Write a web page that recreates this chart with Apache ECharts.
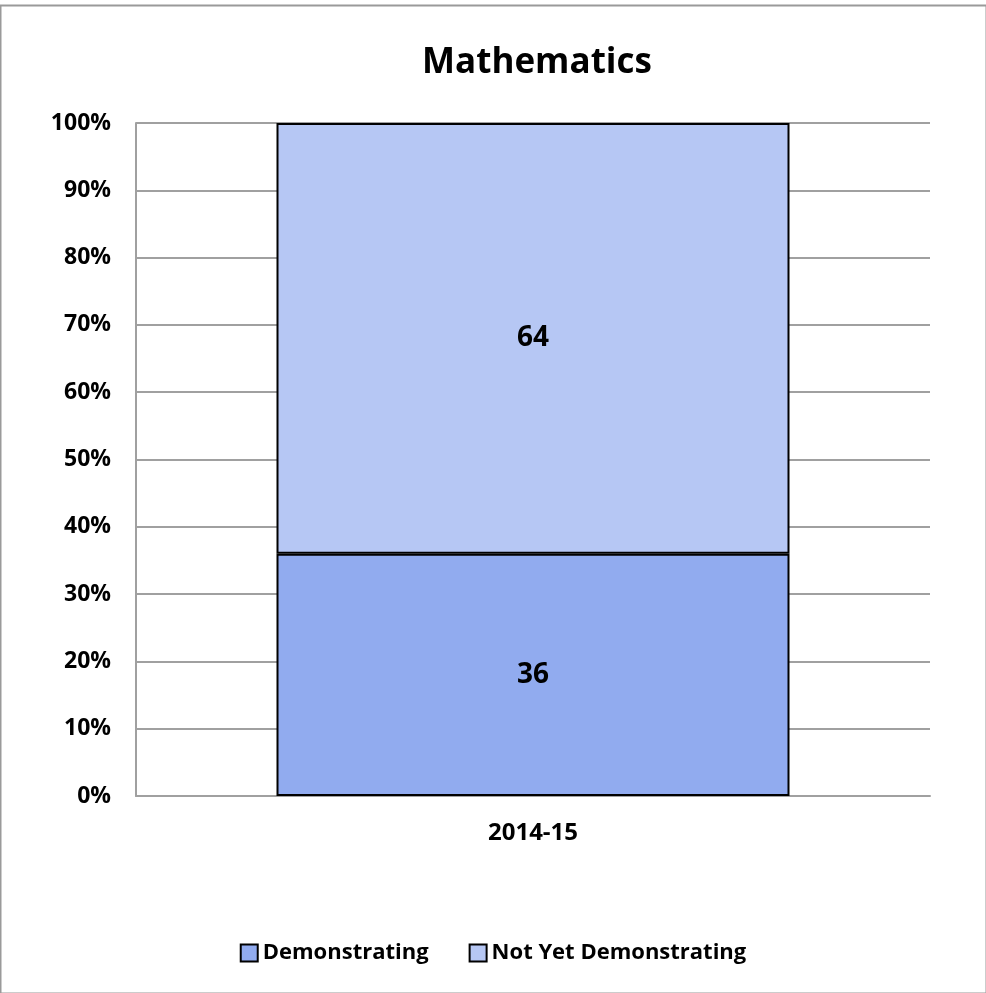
<!DOCTYPE html>
<html>
<head>
<meta charset="utf-8">
<script src="https://cdn.jsdelivr.net/npm/echarts@6/dist/echarts.min.js"></script>
<style>html,body{margin:0;padding:0;background:#fff}#c{width:986px;height:993px}</style>
</head>
<body>
<div id="c"></div>
<script>
var categories = ['2014-15'];
var demonstrating = [36];
var notYetDemonstrating = [64];
var seriesNames = ['Demonstrating', 'Not Yet Demonstrating'];
var colors = ['#91abef', '#b6c7f4'];

var font = '"Open Sans", Lato, sans-serif';
var chart = echarts.init(document.getElementById('c'), null, {renderer: 'canvas'});
chart.setOption({
  animation: false,
  backgroundColor: '#ffffff',
  title: {
    text: 'Mathematics', left: 532, top: 41, textAlign: 'center',
    textStyle: {fontFamily: font, fontWeight: 'bold', fontSize: 35, color: '#000'}
  },
  graphic: [{
    type: 'rect', left: -2, top: 3, shape: {width: 986, height: 988},
    style: {fill: 'none', stroke: '#9a9a9a', lineWidth: 2}, silent: true
  }],
  legend: {
    bottom: 24, left: 'center', itemGap: 40, itemWidth: 17, itemHeight: 17,
    icon: 'rect',
    textStyle: {fontFamily: font, fontWeight: 'bold', fontSize: 22, color: '#000'},
    itemStyle: {borderColor: '#000', borderWidth: 2},
    data: seriesNames
  },
  grid: {left: 136, right: 56, top: 123, bottom: 197, containLabel: false},
  xAxis: {
    type: 'category', data: categories,
    axisLine: {show: true, lineStyle: {color: '#a0a0a0', width: 2}},
    axisTick: {show: false},
    axisLabel: {fontFamily: font, fontWeight: 'bold', fontSize: 24, color: '#000', margin: 25}
  },
  yAxis: {
    type: 'value', min: 0, max: 100, interval: 10,
    axisLine: {show: true, lineStyle: {color: '#a0a0a0', width: 2}},
    axisTick: {show: false},
    splitLine: {lineStyle: {color: '#a0a0a0', width: 2}},
    axisLabel: {formatter: '{value}%', fontFamily: font, fontWeight: 'bold', fontSize: 23, color: '#000', margin: 25}
  },
  series: [{
    name: seriesNames[0], type: 'bar', stack: 'a', data: demonstrating, barWidth: 513,
    itemStyle: {color: colors[0], borderColor: '#000', borderWidth: 2},
    label: {show: true, position: 'inside', fontFamily: font, fontWeight: 'bold', fontSize: 28, color: '#000'}
  }, {
    name: seriesNames[1], type: 'bar', stack: 'a', data: notYetDemonstrating, barWidth: 513,
    itemStyle: {color: colors[1], borderColor: '#000', borderWidth: 2},
    label: {show: true, position: 'inside', fontFamily: font, fontWeight: 'bold', fontSize: 28, color: '#000'}
  }]
});
</script>
</body>
</html>
